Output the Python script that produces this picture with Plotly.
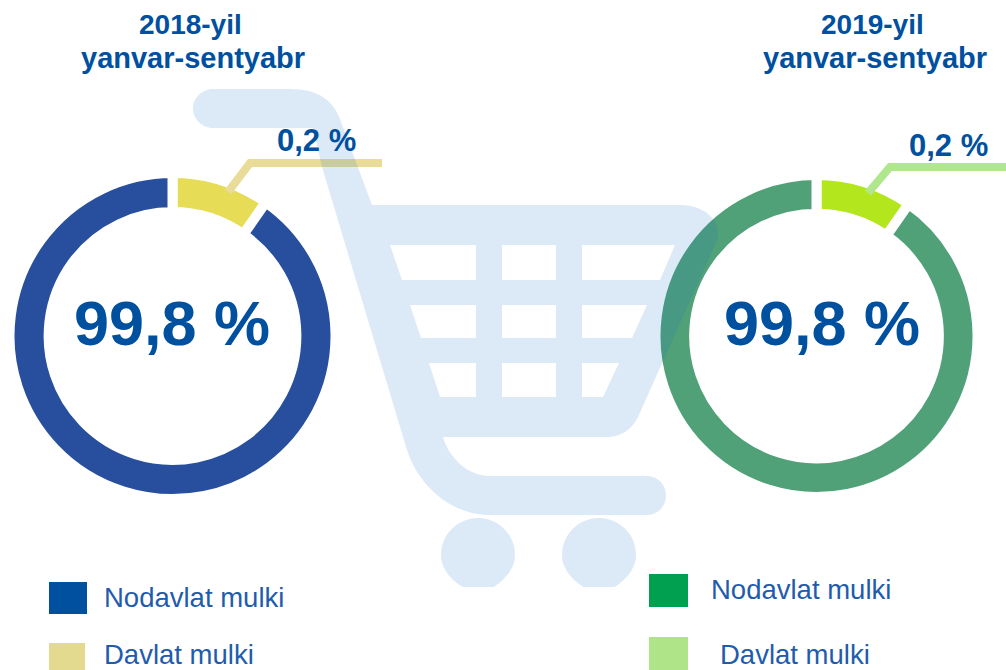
import plotly.graph_objects as go

# Labels printed on the chart
years = ["2018-yil", "2019-yil"]
period = "yanvar-sentyabr"
categories = ["Davlat mulki", "Nodavlat mulki"]
printed_state = ["0,2 %", "0,2 %"]
printed_private = ["99,8 %", "99,8 %"]

# Slice shares as drawn in the picture (the state slice is drawn exaggerated)
drawn_2018 = [9.7, 90.3]
drawn_2019 = [9.7, 90.3]

colors_2018 = ["#e6dc55", "#284f9e"]
colors_2019 = ["#b4e61e", "#50a078"]
legend_2018 = ["#0050a0", "#e3d98f"]
legend_2019 = ["#00a050", "#b0e488"]
TEXT = "#0050a0"
LEGEND_TEXT = "#1f5cad"
FONT = "Liberation Sans"
W, H = 1006, 670


def pie(values, colors, cx, cy, r, hole):
    return go.Pie(
        labels=categories, values=values, sort=False, direction="clockwise", rotation=0,
        hole=hole, textinfo="none", hoverinfo="label+value",
        marker=dict(colors=colors, line=dict(color="white", width=10)),
        domain=dict(x=[(cx - r) / W, (cx + r) / W], y=[1 - (cy + r) / H, 1 - (cy - r) / H]),
        showlegend=False,
    )


fig = go.Figure()
fig.add_trace(pie(drawn_2018, colors_2018, 172.5, 336, 163, 0.76))
fig.add_trace(pie(drawn_2019, colors_2019, 816.5, 336, 161, 0.76))


def rect(x0, y0, x1, y1, color):
    return dict(type="rect", xref="x", yref="y", x0=x0, y0=y0, x1=x1, y1=y1,
                fillcolor=color, line=dict(width=0), layer="above")


def leader(path, color):
    return dict(type="path", xref="x", yref="y", path=path,
                line=dict(color=color, width=8), layer="above")


def wheel(cx, cy, r, bottom):
    k = 0.5523 * r
    return (f"M{cx-r},{cy} C{cx-r},{cy-k} {cx-k},{cy-r} {cx},{cy-r} "
            f"C{cx+k},{cy-r} {cx+r},{cy-k} {cx+r},{cy} "
            f"C{cx+r},{cy+k*0.8} {cx+k*1.1},{bottom-4} {cx+k*0.75},{bottom} "
            f"L{cx-k*0.75},{bottom} C{cx-k*1.1},{bottom-4} {cx-r},{cy+k*0.8} {cx-r},{cy} Z")


cart_body = (
    "M213,89 L290,89 C318,89 334,100 341,122 L372,205 L680,205 C706,205 722,222 717,240 "
    "L638,417 C632,430 620,437 607,437 L443,437 C449,458 468,476 490,476 L647,476 "
    "C658,476 666,485 666,495.5 C666,506 658,515 647,515 L490,515 "
    "C452,515 419,487 407,450 L322,167 L313,128 L213,128 "
    "C202,128 193,119 193,108.5 C193,98 202,89 213,89 Z "
)
windows = [
    (390, 245, 476, 280, 402), (502, 245, 556, 280, 502), (582, 245, 675, 280, 582, 660),
    (410, 305, 476, 338, 421), (502, 305, 556, 338, 502), (582, 305, 647, 338, 582, 632),
    (429, 363, 476, 397, 440), (502, 363, 556, 397, 502), (582, 363, 619, 397, 582, 603),
]
for w in windows:
    xl, yt, xr, yb, xlb = w[:5]
    xrb = w[5] if len(w) > 5 else xr
    cart_body += f"M{xl},{yt} L{xr},{yt} L{xrb},{yb} L{xlb},{yb} Z "

CART = "rgb(22,115,200)"
shapes = [
    leader("M228,192 L250,163 L382,163", "#e8dc98"),
    leader("M868,193 L890,167 L1006,167", "#b0e68c"),
    dict(type="path", xref="x", yref="y", path=cart_body, fillrule="evenodd", fillcolor=CART,
         opacity=0.15, line=dict(width=0), layer="above"),
    dict(type="path", xref="x", yref="y", path=wheel(478, 555, 37, 587), fillcolor=CART,
         opacity=0.15, line=dict(width=0), layer="above"),
    dict(type="path", xref="x", yref="y", path=wheel(599, 555, 37, 587), fillcolor=CART,
         opacity=0.15, line=dict(width=0), layer="above"),
    rect(49, 582, 87, 614, legend_2018[0]),
    rect(49, 643, 85, 672, legend_2018[1]),
    rect(649, 574, 688, 607, legend_2019[0]),
    rect(649, 637, 688, 672, legend_2019[1]),
]


def note(x, y, text, size, color=TEXT, bold=True, anchor="center"):
    t = f"<b>{text}</b>" if bold else text
    return dict(x=x, y=y, xref="x", yref="y", text=t, showarrow=False, xanchor=anchor, yanchor="middle",
                font=dict(family=FONT, size=size, color=color))


annotations = [
    note(190, 24, years[0], 28),
    note(192.5, 58, period, 29),
    note(872, 24, years[1], 28),
    note(874.5, 58, period, 29),
    note(172, 323, printed_private[0], 63),
    note(822, 323, printed_private[1], 63),
    note(316, 140, printed_state[0], 31),
    note(948, 145, printed_state[1], 31),
    note(102, 597, categories[1], 27.5, LEGEND_TEXT, False, "left"),
    note(102, 654, categories[0], 27.5, LEGEND_TEXT, False, "left"),
    note(709, 589, categories[1], 27.5, LEGEND_TEXT, False, "left"),
    note(718, 654, categories[0], 27.5, LEGEND_TEXT, False, "left"),
]

fig.update_layout(
    width=W, height=H, margin=dict(l=0, r=0, t=0, b=0),
    paper_bgcolor="white", plot_bgcolor="white",
    xaxis=dict(range=[0, W], visible=False, fixedrange=True),
    yaxis=dict(range=[H, 0], visible=False, fixedrange=True),
    shapes=shapes, annotations=annotations,
)
fig.write_html("out.html", config=dict(displayModeBar=False),
               post_script="document.body.style.margin='0';")
